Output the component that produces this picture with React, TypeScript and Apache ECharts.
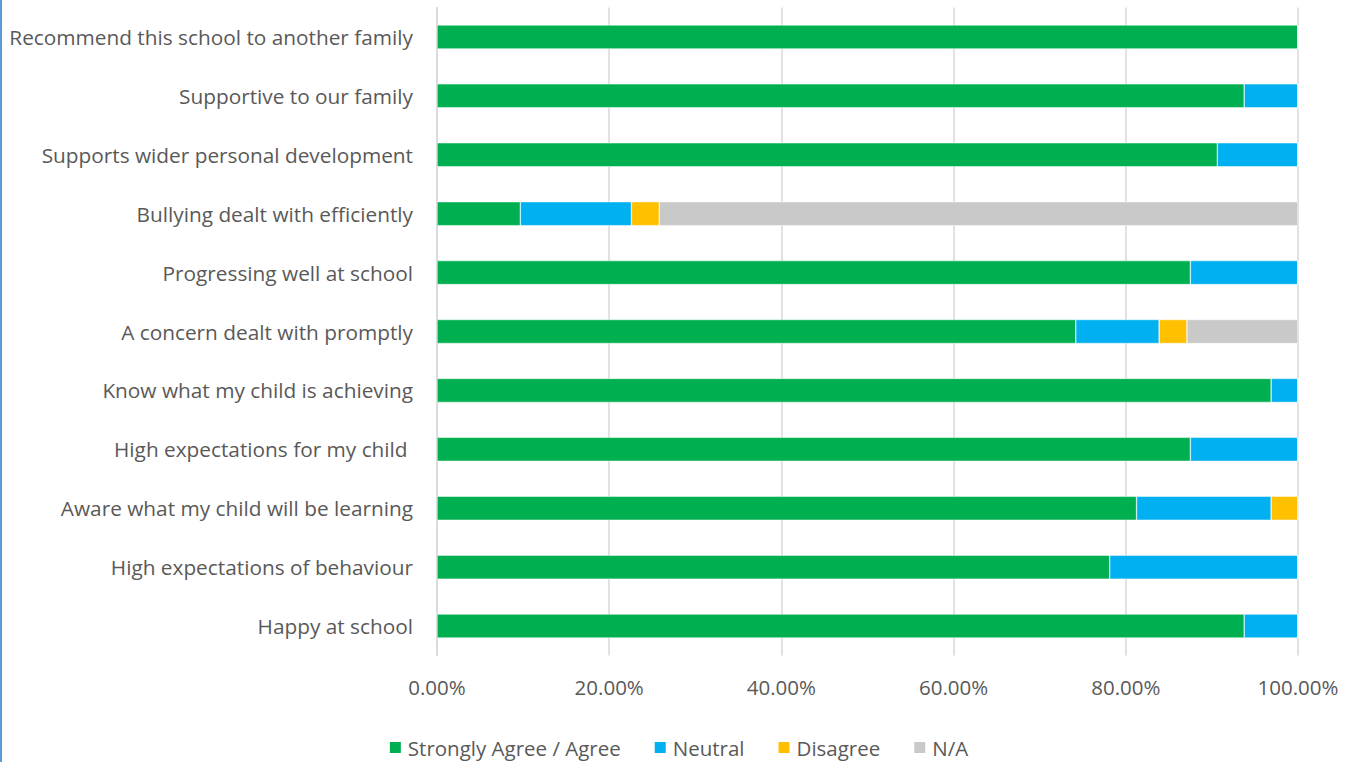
import React, { useEffect, useRef } from "react";
import * as echarts from "echarts";

const categories = [
  "Recommend this school to another family",
  "Supportive to our family",
  "Supports wider personal development",
  "Bullying dealt with efficiently",
  "Progressing well at school",
  "A concern dealt with promptly",
  "Know what my child is achieving",
  "High expectations for my child ",
  "Aware what my child will be learning",
  "High expectations of behaviour",
  "Happy at school",
];

const agree = [100, 93.75, 90.63, 9.68, 87.5, 74.19, 96.88, 87.5, 81.25, 78.13, 93.75];
const neutral = [0, 6.25, 9.37, 12.9, 12.5, 9.68, 3.12, 12.5, 15.63, 21.87, 6.25];
const disagree = [0, 0, 0, 3.23, 0, 3.23, 0, 0, 3.12, 0, 0];
const na = [0, 0, 0, 74.19, 0, 12.9, 0, 0, 0, 0, 0];

const seriesNames = ["Strongly Agree / Agree", "Neutral", "Disagree", "N/A"];
const seriesColors = ["#00B050", "#00B0F0", "#FFC000", "#C9C9C9"];
const seriesData = [agree, neutral, disagree, na];

export default function App() {
  const ref = useRef<HTMLDivElement>(null);
  useEffect(() => {
    if (!ref.current) return;
    const chart = echarts.init(ref.current, undefined, { renderer: "svg" });
    const font = "'Open Sans', Calibri, sans-serif";
    chart.setOption({
      animation: false,
      backgroundColor: "#ffffff",
      grid: { left: 437, right: 58, top: 7.5, bottom: 106.5, containLabel: false },
      legend: {
        bottom: -1,
        left: "center",
        itemWidth: 13,
        itemHeight: 13,
        itemGap: 32,
        icon: "rect",
        textStyle: { fontFamily: font, fontSize: 20.5, color: "#595959", padding: [0, 0, 0, 1] },
        data: seriesNames,
      },
      xAxis: {
        type: "value",
        min: 0,
        max: 100,
        interval: 20,
        axisLine: { show: false },
        axisTick: { show: false },
        splitLine: { show: true, lineStyle: { color: "#D9D9D9", width: 1.5 } },
        axisLabel: {
          margin: 21,
          fontFamily: font,
          fontSize: 20.5,
          color: "#595959",
          formatter: (v: number) => v.toFixed(2) + "%",
        },
      },
      yAxis: {
        type: "category",
        inverse: true,
        data: categories,
        axisLine: { show: true, lineStyle: { color: "#D9D9D9", width: 1.5 } },
        axisTick: { show: false },
        axisLabel: {
          margin: 24,
          fontFamily: font,
          fontSize: 20.8,
          color: "#595959",
        },
      },
      series: seriesNames.map((name, i) => ({
        name,
        type: "bar",
        stack: "total",
        barWidth: 24,
        data: seriesData[i],
        itemStyle: { color: seriesColors[i], borderColor: "#ffffff", borderWidth: 0.5 },
      })),
    });
    return () => chart.dispose();
  }, []);
  return (
    <div
      style={{
        position: "fixed",
        left: 0,
        top: 0,
        width: 1356,
        height: 762,
        background: "#fff",
      }}
    >
      <div ref={ref} style={{ position: "absolute", left: 0, top: 0, width: 1356, height: 762 }} />
      <div
        style={{
          position: "absolute",
          left: 0,
          top: 0,
          width: 2,
          height: 762,
          background: "#5B9BD5",
        }}
      />
    </div>
  );
}
